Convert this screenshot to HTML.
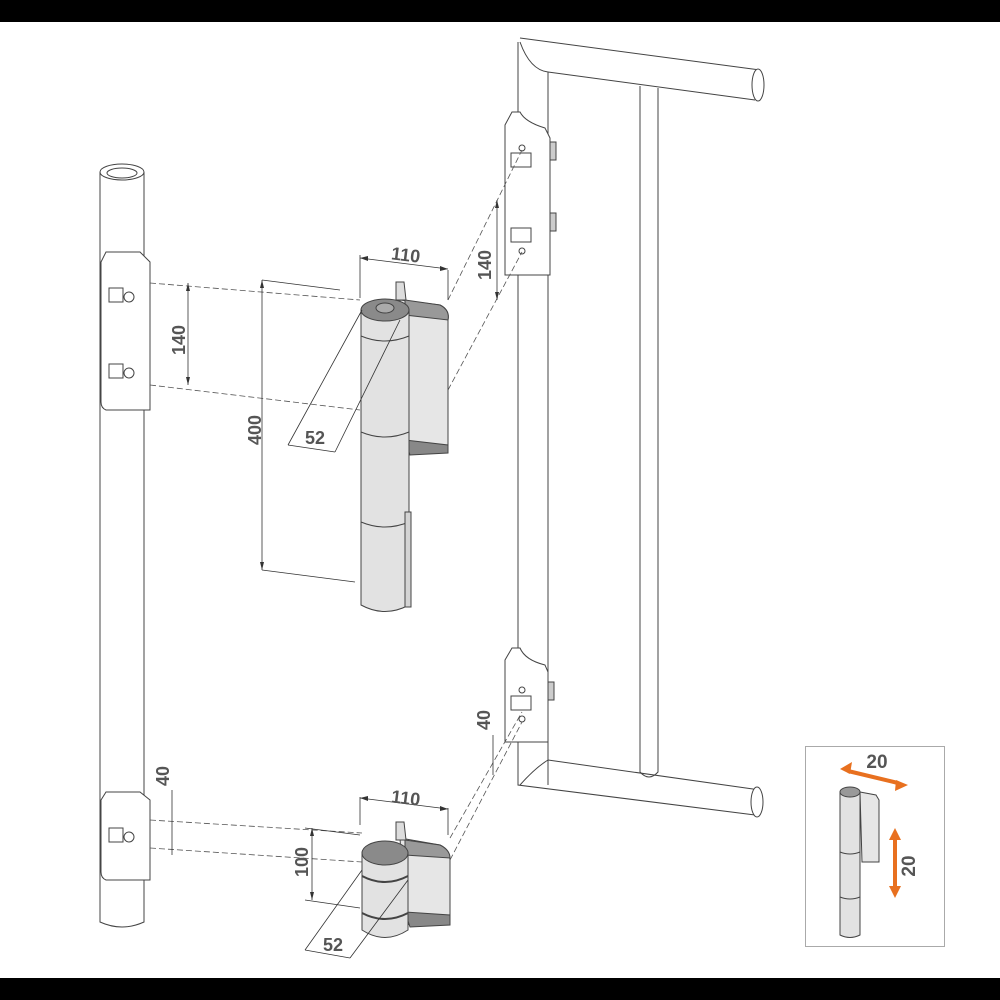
<!DOCTYPE html>
<html><head><style>
html,body{margin:0;padding:0;background:#fff}
svg{display:block}
text{font-family:"Liberation Sans","DejaVu Sans",sans-serif;font-weight:bold;fill:#555}
</style></head><body>
<svg width="1000" height="1000" viewBox="0 0 1000 1000" xmlns="http://www.w3.org/2000/svg">
<rect x="0" y="0" width="1000" height="22" fill="#000"/>
<rect x="0" y="978" width="1000" height="22" fill="#000"/>
<g fill="none" stroke="#444" stroke-width="1">
<path d="M100 172 L100 922 Q122 932 144 922 L144 172" fill="#fff"/>
<ellipse cx="122" cy="172" rx="22" ry="8" fill="#fff"/>
<ellipse cx="122" cy="173" rx="15" ry="5"/>
<path d="M101 262 L106 252 L140 252 L150 262 L150 410 L106 410 Q101 408 101 402 Z" fill="#fff"/>
<path d="M101 800 L106 792 L140 792 L150 800 L150 880 L106 880 Q101 878 101 872 Z" fill="#fff"/>
<rect x="109" y="288" width="14" height="14"/><circle cx="129" cy="297" r="5"/>
<rect x="109" y="364" width="14" height="14"/><circle cx="129" cy="373" r="5"/>
<rect x="109" y="828" width="14" height="14"/><circle cx="129" cy="837" r="5"/>
<path d="M518 42 L518 785 L755 815 M548 785 L548 72 Q530 70 520 42" />
<path d="M520 38 L760 70 M548 72 L755 100"/>
<ellipse cx="758" cy="85" rx="6" ry="16" fill="#fff"/>
<path d="M640 86 L640 772 Q649 782 658 772 L658 88"/>
<path d="M548 760 L760 790 M520 785 Q535 768 548 760"/>
<ellipse cx="757" cy="802" rx="6" ry="15" fill="#fff"/>
<path d="M505 125 L512 112 L520 112 Q525 122 545 128 L550 138 L550 275 L505 275 Z" fill="#fff"/>
<rect x="550" y="142" width="6" height="18" fill="#ccc"/><rect x="550" y="213" width="6" height="18" fill="#ccc"/>
<rect x="511" y="153" width="20" height="14"/><rect x="511" y="228" width="20" height="14"/>
<circle cx="522" cy="148" r="3"/><circle cx="522" cy="251" r="3"/>
<path d="M505 660 L512 648 L520 648 Q525 660 545 665 L548 672 L548 742 L505 742 Z" fill="#fff"/>
<rect x="548" y="682" width="6" height="18" fill="#ccc"/>
<rect x="511" y="696" width="20" height="14"/>
<circle cx="522" cy="690" r="3"/><circle cx="522" cy="719" r="3"/>
</g>
<g stroke="#555" stroke-width="0.8" stroke-dasharray="6,3" fill="none">
<path d="M150 283 L360 300 M150 385 L360 410"/>
<path d="M448 300 L522 150 M448 390 L522 252"/>
<path d="M150 820 L362 833 M150 848 L362 862"/>
<path d="M450 838 L522 712 M450 860 L522 722"/>
</g>
<g stroke="#444" stroke-width="1">
<path d="M400 300 L440 305 Q450 310 448 320 L448 450 L405 453 Z" fill="#e6e6e6"/>
<path d="M405 440 L448 445 L448 453 L410 455 Z" fill="#888"/>
<path d="M405 300 L440 305 Q450 310 448 320 L405 315 Z" fill="#999"/>
<path d="M396 282 L404 282 L406 300 L396 300 Z" fill="#ddd"/>
<path d="M361 310 L361 605 Q385 618 409 605 L409 310 Z" fill="#e2e2e2"/>
<path d="M361 336 Q385 346 409 336 M361 432 Q385 442 409 432 M361 522 Q385 532 409 522" fill="none"/>
<rect x="405" y="512" width="6" height="95" fill="#d4d4d4"/>
<ellipse cx="385" cy="310" rx="24" ry="11" fill="#8a8a8a"/>
<ellipse cx="385" cy="308" rx="9" ry="5" fill="#aaa"/>
</g>
<g stroke="#444" stroke-width="1">
<path d="M400 838 L440 845 Q450 850 450 860 L450 920 L405 925 Z" fill="#e6e6e6"/>
<path d="M405 840 L440 845 Q450 850 450 858 L405 855 Z" fill="#999"/>
<path d="M405 912 L450 915 L450 925 L410 927 Z" fill="#888"/>
<path d="M396 822 L404 822 L406 840 L396 840 Z" fill="#ddd"/>
<path d="M362 852 L362 930 Q385 945 408 930 L408 852 Z" fill="#e2e2e2"/>
<path d="M362 876 Q385 888 408 876 M362 913 Q385 925 408 913" fill="none" stroke-width="2"/>
<ellipse cx="385" cy="853" rx="23" ry="12" fill="#8a8a8a"/>
</g>
<g stroke="#333" stroke-width="0.8" fill="none">
<path d="M360 255 L360 298 M448 270 L448 300 M360 258 L448 269"/>
<path d="M188 283 L188 385"/>
<path d="M262 280 L262 570 M262 280 L340 290 M262 570 L355 582"/>
<path d="M288 445 L335 452 M288 445 L362 310 M335 452 L400 320"/>
<path d="M497 200 L497 300"/>
<path d="M360 797 L360 825 M448 808 L448 835 M360 798 L448 809"/>
<path d="M312 828 L312 900 M305 828 L360 835 M305 900 L360 908"/>
<path d="M305 950 L350 958 M305 950 L362 870 M350 958 L408 880"/>
<path d="M172 790 L172 855"/>
<path d="M493 735 L493 775"/>
</g>
<g fill="#333">
<path d="M360 258 l8 -2 l0 5 z M448 269 l-8 -3 l0 5 z"/>
<path d="M188 283 l-2 8 l4 0 z M188 385 l-2 -8 l4 0 z"/>
<path d="M262 280 l-2 8 l4 0 z M262 570 l-2 -8 l4 0 z"/>
<path d="M360 798 l8 -2 l0 5 z M448 809 l-8 -3 l0 5 z"/>
<path d="M312 828 l-2 8 l4 0 z M312 900 l-2 -8 l4 0 z"/>
<path d="M497 200 l-2 8 l4 0 z M497 300 l-2 -8 l4 0 z"/>
</g>
<text x="405" y="261" font-size="18" text-anchor="middle" transform="rotate(7 405 261)">110</text>
<text x="405" y="804" font-size="18" text-anchor="middle" transform="rotate(7 405 804)">110</text>
<text x="315" y="444" font-size="18" text-anchor="middle">52</text>
<text x="333" y="951" font-size="18" text-anchor="middle">52</text>
<text x="185" y="340" font-size="18" text-anchor="middle" transform="rotate(-90 185 340)">140</text>
<text x="491" y="265" font-size="18" text-anchor="middle" transform="rotate(-90 491 265)">140</text>
<text x="261" y="430" font-size="18" text-anchor="middle" transform="rotate(-90 261 430)">400</text>
<text x="308" y="862" font-size="18" text-anchor="middle" transform="rotate(-90 308 862)">100</text>
<text x="169" y="776" font-size="18" text-anchor="middle" transform="rotate(-90 169 776)">40</text>
<text x="490" y="720" font-size="18" text-anchor="middle" transform="rotate(-90 490 720)">40</text>
<rect x="805.5" y="746.5" width="139" height="200" fill="#fff" stroke="#aaa"/>
<g stroke="#444" stroke-width="1">
<path d="M860 792 L876 795 L879 800 L879 862 L862 862 Z" fill="#e6e6e6"/>
<path d="M840 792 L840 935 Q850 940 860 935 L860 792 Z" fill="#e2e2e2"/>
<path d="M840 852 Q850 856 860 852 M840 897 Q850 901 860 897" fill="none"/>
<ellipse cx="850" cy="792" rx="10" ry="5" fill="#999"/>
</g>
<g stroke="#e8701f" stroke-width="4" fill="#e8701f">
<path d="M848 771 L898 783"/>
<path d="M840 769 l12 -7 l-2 12 z M908 785 l-12 -5 l-1 11 z" stroke="none"/>
<path d="M895 838 L895 888"/>
<path d="M895 828 l-6 12 l12 0 z M895 898 l-6 -12 l12 0 z" stroke="none"/>
</g>
<text x="877" y="768" font-size="19" text-anchor="middle">20</text>
<text x="915" y="866" font-size="19" text-anchor="middle" transform="rotate(-90 915 866)">20</text>
</svg>
</body></html>
